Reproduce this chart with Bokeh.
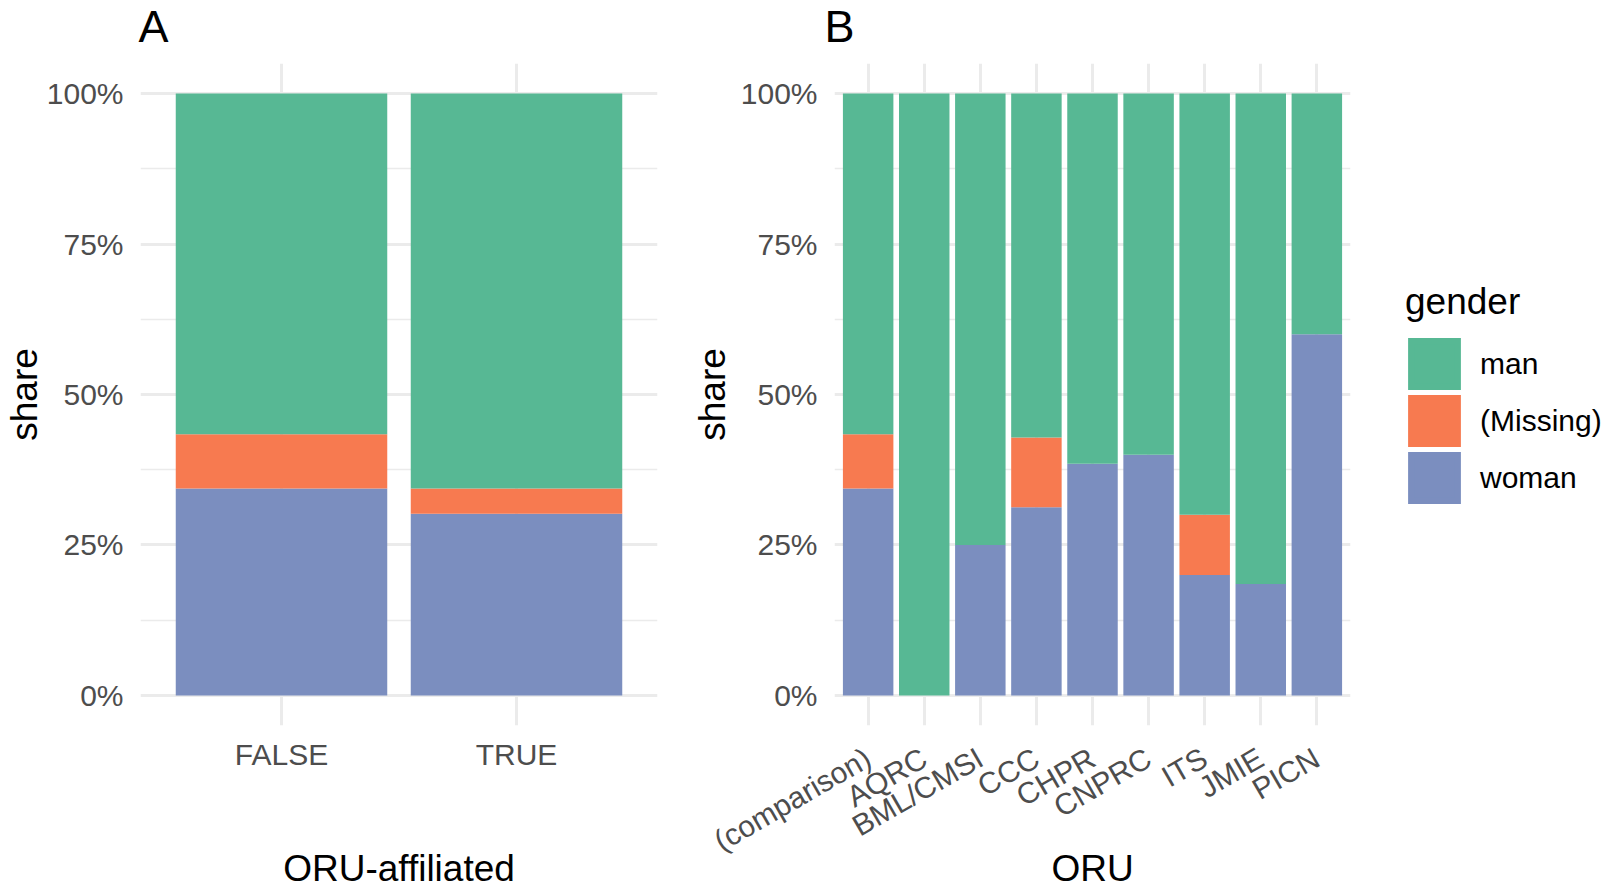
from bokeh.plotting import figure
from bokeh.models import (FactorRange, Range1d, FixedTicker, NumeralTickFormatter,
                          Legend, LegendItem, ColumnDataSource, Label)
from bokeh.layouts import row, column
from bokeh.embed import file_html
from bokeh.resources import INLINE

FONT = "Liberation Sans"

# ---- data ----
stack_order = ["woman", "missing", "man"]
legend_order = ["man", "missing", "woman"]
legend_labels = {"man": "man", "missing": "(Missing)", "woman": "woman"}
colors = {"man": "#57B894", "missing": "#F77A50", "woman": "#7B8EBF"}

cats_a = ["FALSE", "TRUE"]
woman_a = [0.344, 0.302]
missing_a = [0.090, 0.042]
man_a = [0.566, 0.656]

cats_b = ["(comparison)", "AQRC", "BML/CMSI", "CCC", "CHPR", "CNPRC", "ITS", "JMIE", "PICN"]
woman_b = [0.344, 0.0, 0.25, 0.3125, 0.385, 0.40, 0.20, 0.185, 0.60]
missing_b = [0.090, 0.0, 0.0, 0.116, 0.0, 0.0, 0.10, 0.0, 0.0]
man_b = [0.566, 1.0, 0.75, 0.5715, 0.615, 0.60, 0.70, 0.815, 0.40]

y_ticks = [0.0, 0.25, 0.5, 0.75, 1.0]
y_minor = [0.125, 0.375, 0.625, 0.875]

HEADER = 63
HEIGHT = 891 - HEADER
BOTTOM = 166
TICK_PX = "30px"
TITLE_PX = "37px"
LETTER_PX = "45px"


def bare(p):
    p.outline_line_color = None
    p.xgrid.visible = False
    p.ygrid.visible = False
    p.background_fill_color = "white"
    p.border_fill_color = "white"


def make_panel(cats, woman, missing, man, xlabel, width, bl, br,
               rotate, x_std, xl_std, yl_std):
    n = len(cats)
    src = ColumnDataSource(dict(cat=cats, woman=woman, missing=missing, man=man))
    p = figure(x_range=FactorRange(factors=cats, range_padding=0.2 / n),
               y_range=Range1d(-0.05, 1.05), title=None,
               width=width, height=HEIGHT, output_backend="svg", toolbar_location=None,
               min_border_left=bl, min_border_right=br,
               min_border_top=0, min_border_bottom=BOTTOM)
    rs = p.vbar_stack(stack_order, x="cat", width=0.9, source=src,
                      fill_color=[colors[k] for k in stack_order], line_color=None)
    p.outline_line_color = None
    p.background_fill_color = "white"
    p.border_fill_color = "white"

    # grids
    p.xgrid.grid_line_color = "#EBEBEB"
    p.xgrid.grid_line_width = 3
    p.ygrid.grid_line_color = "#EBEBEB"
    p.ygrid.grid_line_width = 3
    p.ygrid.minor_grid_line_color = "#EBEBEB"
    p.ygrid.minor_grid_line_width = 1.6

    # y axis
    p.yaxis.ticker = FixedTicker(ticks=y_ticks, minor_ticks=y_minor)
    p.yaxis.formatter = NumeralTickFormatter(format="0%")
    p.yaxis.axis_label = "share"
    p.yaxis.axis_label_standoff = yl_std
    p.yaxis.major_label_standoff = 17

    # x axis
    p.xaxis.axis_label = xlabel
    p.xaxis.major_label_standoff = x_std
    p.xaxis.axis_label_standoff = xl_std
    if rotate:
        p.xaxis.major_label_orientation = 0.5236

    for ax in (p.xaxis[0], p.yaxis[0]):
        ax.axis_line_color = None
        ax.major_tick_line_color = None
        ax.minor_tick_line_color = None
        ax.major_tick_out = 0
        ax.major_tick_in = 0
        ax.minor_tick_out = 0
        ax.minor_tick_in = 0
        ax.major_label_text_font = FONT
        ax.major_label_text_font_size = TICK_PX
        ax.major_label_text_color = "#4D4D4D"
        ax.axis_label_text_font = FONT
        ax.axis_label_text_font_size = TITLE_PX
        ax.axis_label_text_font_style = "normal"
        ax.axis_label_text_color = "black"
    return p, rs


pa, rs_a = make_panel(cats_a, woman_a, missing_a, man_a, "ORU-affiliated",
                      688, 136, 31, False, 12, 74, -1)
pb, rs_b = make_panel(cats_b, woman_b, missing_b, man_b, "ORU",
                      672, 142, 10, True, 30, -27, 5)

# header strip holding the panel letters
ph = figure(width=1603, height=HEADER, output_backend="svg", toolbar_location=None,
            title=None, x_axis_location=None, y_axis_location=None,
            min_border_left=0, min_border_right=0, min_border_top=0, min_border_bottom=0,
            x_range=Range1d(0, 1603), y_range=Range1d(HEADER, 0))
bare(ph)
for letter, lx in (("A", 138), ("B", 824)):
    ph.add_layout(Label(x=lx, y=26, text=letter, text_font=FONT, text_font_size=LETTER_PX,
                        text_baseline="alphabetic", text_align="left", text_color="black"))

# legend panel (its own figure, legend drawn inside its frame)
pl = figure(width=243, height=HEIGHT, output_backend="svg", toolbar_location=None,
            title=None, x_axis_location=None, y_axis_location=None,
            min_border_left=0, min_border_right=0, min_border_top=0, min_border_bottom=BOTTOM,
            x_range=Range1d(0, 1), y_range=Range1d(0, 1))
bare(pl)
leg_src = ColumnDataSource(dict(x=[float("nan")], top=[float("nan")]))
leg_r = {k: pl.vbar(x="x", top="top", width=0.9, source=leg_src,
                    fill_color=colors[k], line_color=colors[k], line_width=6.4,
                    line_join="miter")
         for k in legend_order}
items = [LegendItem(label=legend_labels[k], renderers=[leg_r[k]]) for k in legend_order]
legend = Legend(items=items, location=(45, 219), title="gender",
                title_text_font=FONT, title_text_font_size=TITLE_PX,
                title_text_font_style="normal", title_text_color="black",
                title_standoff=12,
                label_text_font=FONT, label_text_font_size=TICK_PX,
                label_text_color="black",
                glyph_width=58, glyph_height=57, spacing=0, label_standoff=17,
                padding=0, margin=0, border_line_color=None,
                background_fill_alpha=0)
pl.add_layout(legend)

layout = column(ph, row(pa, pb, pl))
open("out.html", "w").write(file_html(layout, INLINE))
